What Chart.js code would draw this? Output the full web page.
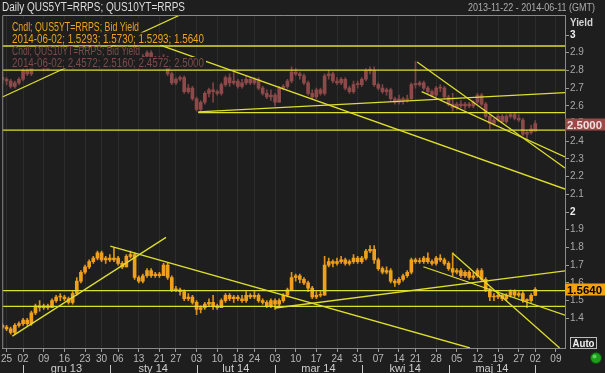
<!DOCTYPE html>
<html>
<head>
<meta charset="utf-8">
<script src="https://cdn.jsdelivr.net/npm/chart.js@4.4.1/dist/chart.umd.min.js"></script>
<style>
  html, body { margin: 0; padding: 0; background: #1e1e1e; }
  canvas { display: block; }
</style>
</head>
<body>
<canvas id="chart" width="605" height="373"></canvas>
<script>
// ===== Data (x = trading day index from 2013-11-22) =====
const weekTickIdx = [1, 5, 10, 15, 20, 24, 28, 33, 38, 42, 47, 52, 57, 61, 66, 71, 76, 81, 86, 91, 96, 100, 105, 110, 115, 120, 125, 129, 134];
const weekTickLabels = ["25", "02", "09", "16", "23", "30", "06", "13", "21", "27", "03", "10", "18", "24", "03", "10", "17", "24", "31", "07", "14", "21", "28", "05", "12", "19", "27", "02", "09"];
const monthStartIdx = [5, 26, 47, 66, 87, 108, 129];
const monthLabels = ["gru 13", "sty 14", "lut 14", "mar 14", "kwi 14", "maj 14"];
const yTicks = [1.4, 1.5, 1.6, 1.7, 1.8, 1.9, 2, 2.1, 2.2, 2.3, 2.4, 2.5, 2.6, 2.7, 2.8, 2.9, 3];

// QUS10YT=RRPS bid yield
const tenOpen = [2.76,2.75,2.74,2.71,2.73,2.75,2.80,2.78,2.83,2.87,2.86,2.81,2.85,2.88,2.87,2.87,2.88,2.85,2.89,2.93,
  2.89,2.93,2.98,2.99,3.00,2.97,3.03,2.99,2.99,2.96,2.95,2.99,2.97,2.86,2.83,2.88,2.90,2.87,2.85,2.86,
  2.87,2.78,2.73,2.75,2.76,2.68,2.70,2.64,2.58,2.62,2.67,2.69,2.68,2.67,2.72,2.76,2.73,2.74,2.71,2.73,
  2.75,2.73,2.75,2.70,2.67,2.65,2.66,2.62,2.70,2.71,2.74,2.79,2.78,2.77,2.73,2.67,2.65,2.69,2.67,2.77,
  2.78,2.74,2.73,2.75,2.70,2.68,2.72,2.72,2.75,2.80,2.80,2.72,2.70,2.68,2.69,2.64,2.62,2.64,2.63,2.64,
  2.72,2.72,2.73,2.70,2.68,2.66,2.70,2.70,2.65,2.61,2.59,2.61,2.60,2.61,2.60,2.62,2.66,2.61,2.54,2.50,
  2.52,2.54,2.51,2.54,2.55,2.53,2.52,2.44,2.45,2.4572];
const tenHigh = [2.79,2.76,2.75,2.74,2.76,2.81,2.81,2.84,2.89,2.90,2.87,2.86,2.89,2.89,2.90,2.89,2.89,2.91,2.94,2.94,
  2.94,2.99,3.00,3.02,3.01,3.04,3.04,3.01,3.00,2.97,3.00,3.00,2.98,2.87,2.89,2.91,2.91,2.88,2.88,2.89,
  2.88,2.79,2.76,2.77,2.77,2.72,2.71,2.65,2.63,2.68,2.70,2.73,2.69,2.73,2.77,2.78,2.80,2.75,2.75,2.77,
  2.76,2.76,2.76,2.71,2.69,2.69,2.67,2.71,2.72,2.75,2.82,2.81,2.79,2.78,2.74,2.69,2.70,2.70,2.78,2.80,
  2.79,2.76,2.76,2.76,2.71,2.74,2.74,2.76,2.81,2.82,2.82,2.73,2.72,2.70,2.70,2.65,2.66,2.65,2.66,2.73,
  2.85,2.74,2.74,2.71,2.69,2.71,2.72,2.71,2.66,2.67,2.62,2.63,2.62,2.62,2.63,2.67,2.67,2.62,2.55,2.53,
  2.55,2.55,2.55,2.56,2.56,2.55,2.53,2.46,2.49,2.516];
const tenLow = [2.73,2.72,2.70,2.70,2.72,2.74,2.77,2.77,2.82,2.84,2.80,2.80,2.84,2.85,2.86,2.86,2.84,2.81,2.88,2.88,
  2.88,2.92,2.97,2.98,2.96,2.96,2.98,2.97,2.94,2.93,2.94,2.95,2.84,2.81,2.82,2.87,2.86,2.84,2.83,2.85,
  2.77,2.72,2.72,2.74,2.67,2.67,2.63,2.57,2.57,2.61,2.65,2.62,2.66,2.66,2.71,2.71,2.72,2.70,2.70,2.72,
  2.72,2.72,2.69,2.66,2.64,2.63,2.60,2.62,2.69,2.70,2.73,2.77,2.75,2.72,2.66,2.64,2.64,2.66,2.66,2.75,
  2.73,2.72,2.72,2.69,2.67,2.67,2.70,2.71,2.74,2.78,2.71,2.69,2.67,2.66,2.63,2.61,2.61,2.61,2.62,2.63,
  2.70,2.71,2.69,2.67,2.65,2.65,2.68,2.64,2.60,2.57,2.58,2.59,2.58,2.59,2.59,2.61,2.60,2.53,2.47,2.49,
  2.51,2.50,2.50,2.53,2.52,2.51,2.43,2.41,2.44,2.4572];
const tenClose = [2.75,2.74,2.71,2.73,2.75,2.80,2.78,2.83,2.87,2.86,2.81,2.85,2.88,2.87,2.88,2.88,2.85,2.89,2.93,2.89,
  2.93,2.98,2.99,3.00,2.97,3.03,2.99,2.99,2.96,2.95,2.99,2.97,2.86,2.83,2.88,2.90,2.87,2.85,2.86,2.87,
  2.78,2.73,2.75,2.76,2.68,2.70,2.64,2.58,2.62,2.67,2.69,2.68,2.67,2.72,2.76,2.73,2.74,2.71,2.73,2.75,
  2.73,2.75,2.70,2.67,2.65,2.66,2.62,2.70,2.71,2.74,2.79,2.78,2.77,2.73,2.67,2.65,2.69,2.67,2.77,2.78,
  2.74,2.73,2.75,2.70,2.68,2.72,2.72,2.75,2.80,2.80,2.72,2.70,2.68,2.69,2.64,2.62,2.64,2.63,2.64,2.72,
  2.72,2.73,2.70,2.68,2.66,2.70,2.70,2.65,2.61,2.59,2.61,2.60,2.61,2.60,2.62,2.66,2.61,2.54,2.50,2.52,
  2.54,2.51,2.54,2.55,2.53,2.52,2.44,2.45,2.47,2.50];

// QUS5YT=RRPS bid yield
const fiveOpen = [1.36,1.35,1.34,1.32,1.36,1.37,1.39,1.37,1.43,1.47,1.46,1.47,1.46,1.50,1.52,1.52,1.51,1.49,1.54,1.61,
  1.66,1.69,1.72,1.74,1.77,1.73,1.74,1.73,1.74,1.71,1.69,1.75,1.76,1.63,1.61,1.64,1.67,1.64,1.65,1.64,
  1.70,1.63,1.56,1.56,1.55,1.51,1.52,1.49,1.45,1.46,1.48,1.49,1.47,1.46,1.50,1.53,1.51,1.52,1.51,1.50,
  1.53,1.52,1.53,1.50,1.49,1.47,1.50,1.48,1.50,1.53,1.56,1.63,1.64,1.62,1.60,1.57,1.52,1.53,1.53,1.70,
  1.72,1.71,1.72,1.73,1.71,1.72,1.74,1.72,1.74,1.78,1.79,1.73,1.68,1.66,1.67,1.61,1.60,1.62,1.64,1.66,
  1.73,1.72,1.72,1.74,1.72,1.71,1.74,1.73,1.71,1.68,1.66,1.67,1.64,1.66,1.63,1.64,1.67,1.62,1.56,1.52,
  1.52,1.53,1.51,1.53,1.55,1.53,1.54,1.50,1.50,1.5293];
const fiveHigh = [1.37,1.36,1.35,1.37,1.38,1.40,1.40,1.44,1.48,1.50,1.48,1.48,1.51,1.53,1.54,1.53,1.52,1.55,1.63,1.67,
  1.70,1.73,1.75,1.78,1.78,1.75,1.76,1.80,1.75,1.72,1.76,1.78,1.77,1.64,1.65,1.68,1.68,1.66,1.66,1.71,
  1.71,1.64,1.58,1.57,1.56,1.54,1.53,1.50,1.47,1.49,1.51,1.53,1.48,1.51,1.54,1.54,1.53,1.53,1.53,1.55,
  1.54,1.55,1.54,1.51,1.50,1.51,1.51,1.51,1.54,1.57,1.66,1.65,1.65,1.63,1.61,1.58,1.55,1.55,1.75,1.74,
  1.73,1.74,1.75,1.74,1.73,1.76,1.75,1.75,1.79,1.81,1.81,1.74,1.69,1.69,1.68,1.62,1.63,1.65,1.67,1.74,
  1.74,1.74,1.75,1.77,1.73,1.75,1.76,1.74,1.72,1.77,1.68,1.68,1.67,1.67,1.66,1.68,1.68,1.63,1.57,1.54,
  1.55,1.54,1.54,1.56,1.56,1.55,1.55,1.51,1.54,1.573];
const fiveLow = [1.34,1.33,1.31,1.31,1.35,1.36,1.36,1.36,1.42,1.44,1.45,1.45,1.46,1.49,1.50,1.50,1.48,1.48,1.53,1.60,
  1.65,1.68,1.71,1.73,1.72,1.71,1.72,1.72,1.70,1.68,1.69,1.74,1.62,1.60,1.60,1.63,1.63,1.63,1.63,1.64,
  1.62,1.55,1.55,1.53,1.50,1.50,1.48,1.42,1.43,1.45,1.47,1.45,1.45,1.46,1.49,1.50,1.49,1.50,1.49,1.49,
  1.51,1.51,1.49,1.48,1.46,1.46,1.45,1.47,1.49,1.52,1.56,1.61,1.60,1.59,1.55,1.51,1.51,1.52,1.53,1.69,
  1.69,1.70,1.71,1.70,1.70,1.71,1.71,1.71,1.73,1.77,1.71,1.67,1.65,1.65,1.60,1.58,1.59,1.61,1.63,1.65,
  1.71,1.71,1.71,1.71,1.70,1.70,1.72,1.70,1.67,1.64,1.65,1.63,1.63,1.62,1.62,1.63,1.61,1.55,1.50,1.50,
  1.51,1.50,1.50,1.52,1.52,1.52,1.49,1.46,1.49,1.5293];
const fiveClose = [1.35,1.34,1.32,1.36,1.37,1.39,1.37,1.43,1.47,1.46,1.47,1.46,1.50,1.52,1.52,1.51,1.49,1.54,1.61,1.66,
  1.69,1.72,1.74,1.77,1.73,1.74,1.73,1.74,1.71,1.69,1.75,1.76,1.63,1.61,1.64,1.67,1.64,1.65,1.64,1.70,
  1.63,1.56,1.56,1.55,1.51,1.52,1.49,1.45,1.46,1.48,1.49,1.47,1.46,1.50,1.53,1.51,1.52,1.51,1.50,1.53,
  1.52,1.53,1.50,1.49,1.47,1.50,1.48,1.50,1.53,1.56,1.63,1.64,1.62,1.60,1.57,1.52,1.53,1.53,1.70,1.72,
  1.71,1.72,1.73,1.71,1.72,1.74,1.72,1.74,1.78,1.79,1.73,1.68,1.66,1.67,1.61,1.60,1.62,1.64,1.66,1.73,
  1.72,1.72,1.74,1.72,1.71,1.74,1.73,1.71,1.68,1.66,1.67,1.64,1.66,1.63,1.64,1.67,1.62,1.56,1.52,1.52,
  1.53,1.51,1.53,1.55,1.53,1.54,1.50,1.50,1.53,1.564];

// drawn trend lines: [[dayIdx, yield], [dayIdx, yield]]
const trendLines = [
  [[0, 2.938], [136.2, 2.938]],
  [[0, 2.802], [136.2, 2.802]],
  [[0, 2.463], [136.2, 2.463]],
  [[47.4, 2.562], [136.2, 2.562]],
  [[47.4, 2.566], [136.2, 2.675]],
  [[0, 2.65], [43, 3.113]],
  [[38.2, 2.943], [136.2, 2.13]],
  [[100.4, 2.847], [136.2, 2.249]],
  [[101.5, 2.68], [136.2, 2.311]],
  [[0, 1.556], [136.2, 1.556]],
  [[0, 1.467], [136.2, 1.467]],
  [[2.4, 1.299], [39.6, 1.857]],
  [[26.1, 1.808], [113.2, 1.232]],
  [[66, 1.458], [136.2, 1.668]],
  [[109, 1.767], [134.9, 1.232]],
  [[101.9, 1.691], [136.2, 1.418]]
];

const lastTen = 2.5;
const lastFive = 1.564;

// ===== helpers =====
function fitText(ctx, text, x, y, w) {
  const m = ctx.measureText(text).width;
  ctx.save();
  ctx.translate(x, y);
  ctx.scale(w / m, 1);
  ctx.fillText(text, 0, 0);
  ctx.restore();
}

const BG = "#1e1e1e";

const framePlugin = {
  id: "frame",
  beforeDraw(chart) {
    const c = chart.ctx;
    c.save();
    c.fillStyle = BG;
    c.fillRect(0, 0, chart.width, chart.height);
    c.restore();
  },
  afterDatasetsDraw(chart) {
    const c = chart.ctx;
    const a = chart.chartArea;
    c.save();
    // legend rows with opaque background: text, baseline, width, colour, boxTop, boxHeight, boxWidth
    const rows = [
      ["Cndl; QUS5YT=RRPS; Bid Yield", 30.5, 127, "#eba420", 19, 13.5, 131],
      ["2014-06-02; 1.5293; 1.5730; 1.5293; 1.5640", 42.5, 192, "#eba420", 32.5, 12.5, 196],
      ["Cndl; QUS10YT=RRPS; Bid Yield", 55, 128, "#7e4b4b", 47.5, 9.5, 132],
      ["2014-06-02; 2.4572; 2.5160; 2.4572; 2.5000", 66.5, 192, "#7e4b4b", 57, 11.5, 196]
    ];
    c.font = '12px "Liberation Sans"';
    c.textBaseline = "alphabetic";
    c.textAlign = "left";
    rows.forEach(r => {
      c.fillStyle = BG;
      c.fillRect(10, r[4], r[6], r[5]);
      c.fillStyle = r[3];
      fitText(c, r[0], 12, r[1], r[2]);
    });
    // frame
    c.strokeStyle = "#8a8a8a";
    c.lineWidth = 1;
    c.beginPath();
    c.moveTo(a.left + 0.5, a.bottom);
    c.lineTo(a.left + 0.5, a.top + 0.5);
    c.lineTo(a.right, a.top + 0.5);
    c.stroke();
    c.restore();
  },
  afterDraw(chart) {
    const c = chart.ctx;
    const x = chart.scales.x;
    const y = chart.scales.y;
    c.save();
    c.textBaseline = "alphabetic";
    c.textAlign = "left";
    // header
    c.fillStyle = "#dcdcdc";
    c.font = '12px "Liberation Sans"';
    fitText(c, "Daily QUS5YT=RRPS; QUS10YT=RRPS", 2, 11, 183);
    c.fillStyle = "#adadad";
    c.font = '11px "Liberation Sans"';
    fitText(c, "2013-11-22 - 2014-06-11 (GMT)", 468, 10.5, 127);
    c.fillStyle = "#d4d4d4";
    c.font = 'bold 11px "Liberation Sans"';
    fitText(c, "Yield", 570, 26, 23);

    // last value tags
    const tags = [
      [lastTen, "2.5000", "#9c4949", "#f0e0e0"],
      [lastFive, "1.5640", "#f5a10c", "#000000"]
    ];
    tags.forEach(t => {
      const py = Math.round(y.getPixelForValue(t[0]));
      c.fillStyle = t[2];
      c.fillRect(565, py - 5.5, 40, 12);
      c.fillStyle = t[3];
      c.font = 'bold 11px "Liberation Sans"';
      fitText(c, t[1], 567, py + 4.5, 35);
    });

    // month labels and separators
    c.strokeStyle = "#c8c8c8";
    c.lineWidth = 1;
    monthStartIdx.forEach(i => {
      const px = Math.round(x.getPixelForValue(i)) + 0.5;
      c.beginPath();
      c.moveTo(px, 365);
      c.lineTo(px, 373);
      c.stroke();
    });
    c.fillStyle = "#cfcfcf";
    c.font = '11px "Liberation Sans"';
    c.textAlign = "center";
    monthLabels.forEach((m, k) => {
      const px = x.getPixelForValue((monthStartIdx[k] + monthStartIdx[k + 1]) / 2);
      c.fillText(m, px, 372);
    });

    // Auto button and status dot
    c.textAlign = "left";
    c.fillStyle = BG;
    c.fillRect(570.5, 337.5, 26, 11);
    c.strokeStyle = "#bdbdbd";
    c.strokeRect(570.5, 337.5, 26, 11);
    c.fillStyle = "#f0f0f0";
    c.font = 'bold 10px "Liberation Sans"';
    fitText(c, "Auto", 572.5, 346.5, 22);
    c.beginPath();
    c.arc(596, 358, 5.5, 0, Math.PI * 2);
    c.fillStyle = "#1c9e1c";
    c.fill();
    c.strokeStyle = "#0c4a0c";
    c.stroke();
    c.beginPath();
    c.arc(594.5, 356.5, 2, 0, Math.PI * 2);
    c.fillStyle = "rgba(160,255,160,0.5)";
    c.fill();
    c.restore();
  }
};

// ===== Chart =====
const candleSet = (lo, hi, color, width, order) => ({
  type: "bar",
  data: lo.map((v, i) => ({ x: i, y: [v, hi[i]] })),
  backgroundColor: color,
  barThickness: width,
  grouped: false,
  minBarLength: 1,
  order: order
});

const lineSets = trendLines.map(p => ({
  type: "line",
  data: p.map(pt => ({ x: pt[0], y: pt[1] })),
  borderColor: "#dede2c",
  borderWidth: 1.3,
  pointRadius: 0,
  fill: false,
  order: 0
}));

new Chart(document.getElementById("chart"), {
  type: "bar",
  data: {
    datasets: [
      ...lineSets,
      candleSet(tenOpen, tenClose, "#8d4a4a", 3, 1),
      candleSet(tenLow, tenHigh, "#7d4343", 1, 2),
      candleSet(fiveOpen, fiveClose, "#f0a01c", 3, 1),
      candleSet(fiveLow, fiveHigh, "#dd9418", 1, 2)
    ]
  },
  options: {
    responsive: false,
    animation: false,
    events: [],
    layout: { padding: { left: 2, top: 15, right: 0, bottom: 0 } },
    plugins: { legend: { display: false }, tooltip: { enabled: false } },
    scales: {
      x: {
        type: "linear",
        min: -0.05,
        max: 136.2,
        offset: false,
        afterFit(s) { s.height = 25; },
        afterBuildTicks(s) { s.ticks = weekTickIdx.map(v => ({ value: v })); },
        ticks: {
          autoSkip: false,
          maxRotation: 0,
          padding: 1,
          color: "#b8b8b8",
          font: { size: 10, family: "Liberation Sans" },
          callback: (v, i) => weekTickLabels[i]
        },
        grid: { color: "#2c2c2c", tickColor: "#9a9a9a", tickLength: 4, offset: false },
        border: { color: "#8a8a8a" }
      },
      y: {
        type: "linear",
        position: "right",
        min: 1.232,
        max: 3.113,
        afterFit(s) { s.width = 40; },
        afterBuildTicks(s) { s.ticks = yTicks.map(v => ({ value: v })); },
        ticks: {
          autoSkip: false,
          padding: 1,
          color: c => (c.tick && Number.isInteger(c.tick.value)) ? "#f0f0f0" : "#a8a8a8",
          font: c => ({ size: 10, family: "Liberation Sans", weight: (c.tick && Number.isInteger(c.tick.value)) ? "bold" : "normal" }),
          callback: v => String(v)
        },
        grid: { drawOnChartArea: false, tickColor: "#9a9a9a", tickLength: 4 },
        border: { color: "#8a8a8a" }
      }
    }
  },
  plugins: [framePlugin]
});
</script>
</body>
</html>
